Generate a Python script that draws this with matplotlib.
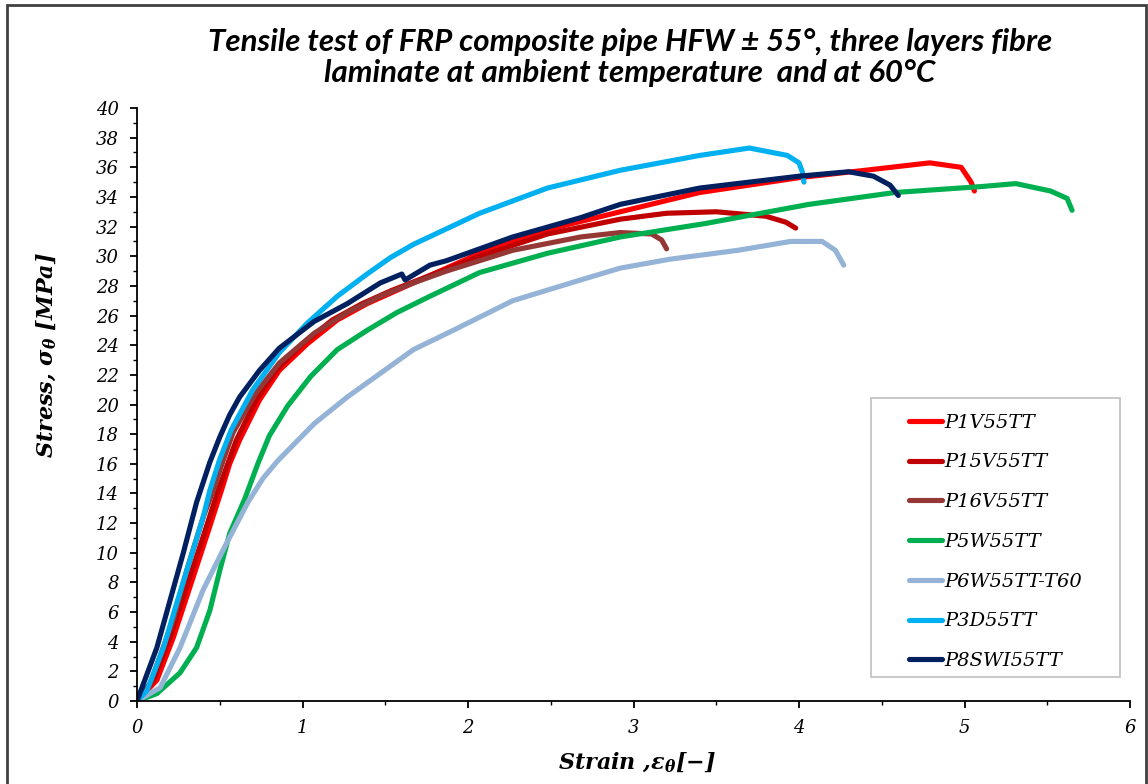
import matplotlib
matplotlib.use("Agg")
import matplotlib.pyplot as plt
from matplotlib.patches import Rectangle
from matplotlib.ticker import MultipleLocator

plt.rcParams['mathtext.fontset'] = 'custom'
plt.rcParams['mathtext.it'] = 'DejaVu Serif:italic:bold'
plt.rcParams['mathtext.rm'] = 'DejaVu Serif:bold'
plt.rcParams['mathtext.bf'] = 'DejaVu Serif:bold'

# ---------------- data ----------------
labels = ["P1V55TT", "P15V55TT", "P16V55TT", "P5W55TT", "P6W55TT-T60", "P3D55TT", "P8SWI55TT"]
colors = ["#FF0000", "#C00000", "#953735", "#00B050", "#95B3D7", "#00B0F0", "#002060"]

p1v_strain = [0, 0.12, 0.22, 0.32, 0.42, 0.51, 0.56, 0.62, 0.74, 0.86, 1.03, 1.21, 1.39, 1.57, 1.77, 2.07, 2.48, 2.92, 3.4, 4.0, 4.4, 4.79, 4.98, 5.04, 5.06]
p1v_stress = [0, 1.4, 4.3, 7.7, 11.1, 14.2, 16.0, 17.6, 20.3, 22.3, 24.1, 25.7, 26.8, 27.7, 28.7, 30.2, 31.8, 33.0, 34.3, 35.3, 35.8, 36.3, 36.0, 35.0, 34.4]

p15v_strain = [0, 0.10, 0.20, 0.30, 0.40, 0.49, 0.60, 0.72, 0.84, 1.00, 1.18, 1.36, 1.54, 1.77, 2.07, 2.48, 2.92, 3.2, 3.5, 3.8, 3.92, 3.98]
p15v_stress = [0, 1.4, 4.3, 7.7, 11.1, 14.2, 17.6, 20.3, 22.3, 24.1, 25.7, 26.8, 27.7, 28.7, 30.0, 31.5, 32.5, 32.9, 33.0, 32.7, 32.3, 31.9]

p16v_strain = [0, 0.08, 0.22, 0.30, 0.40, 0.46, 0.52, 0.58, 0.72, 0.86, 1.07, 1.27, 1.47, 1.67, 1.87, 2.27, 2.68, 2.92, 3.11, 3.17, 3.20]
p16v_stress = [0, 1.2, 5.5, 8.8, 12.4, 14.2, 16.2, 18.1, 20.8, 22.8, 24.8, 26.2, 27.3, 28.2, 29.0, 30.4, 31.3, 31.6, 31.5, 31.1, 30.5]

p5w_strain = [0, 0.12, 0.26, 0.36, 0.44, 0.50, 0.56, 0.65, 0.73, 0.80, 0.91, 1.05, 1.21, 1.39, 1.57, 1.77, 2.07, 2.48, 2.92, 3.43, 4.06, 4.58, 5.10, 5.31, 5.52, 5.62, 5.65]
p5w_stress = [0, 0.5, 1.9, 3.6, 6.1, 8.8, 11.3, 13.6, 16.0, 17.9, 19.9, 21.9, 23.7, 25.0, 26.2, 27.3, 28.9, 30.2, 31.3, 32.2, 33.5, 34.3, 34.7, 34.9, 34.4, 33.9, 33.1]

p6w_strain = [0, 0.14, 0.26, 0.40, 0.53, 0.67, 0.76, 0.85, 1.07, 1.27, 1.47, 1.67, 1.91, 2.27, 2.68, 2.92, 3.22, 3.63, 3.95, 4.14, 4.22, 4.27]
p6w_stress = [0, 0.9, 3.6, 7.5, 10.4, 13.4, 15.0, 16.2, 18.7, 20.5, 22.1, 23.7, 25.0, 27.0, 28.4, 29.2, 29.8, 30.4, 31.0, 31.0, 30.4, 29.4]

p3d_strain = [0, 0.06, 0.16, 0.24, 0.32, 0.40, 0.44, 0.50, 0.57, 0.70, 0.86, 1.03, 1.21, 1.39, 1.53, 1.67, 2.07, 2.48, 2.92, 3.4, 3.70, 3.93, 4.00, 4.02, 4.03]
p3d_stress = [0, 0.7, 3.6, 6.6, 9.5, 12.4, 14.2, 16.3, 18.3, 21.0, 23.5, 25.5, 27.3, 28.8, 29.9, 30.8, 32.9, 34.6, 35.8, 36.8, 37.3, 36.8, 36.3, 35.7, 35.0]

p8swi_strain = [0, 0.12, 0.20, 0.28, 0.36, 0.44, 0.50, 0.56, 0.62, 0.74, 0.86, 1.07, 1.27, 1.47, 1.60, 1.62, 1.77, 1.87, 2.27, 2.68, 2.92, 3.4, 4.0, 4.30, 4.45, 4.55, 4.60]
p8swi_stress = [0, 3.6, 6.8, 10.0, 13.4, 16.1, 17.8, 19.3, 20.5, 22.3, 23.8, 25.6, 26.8, 28.2, 28.8, 28.4, 29.4, 29.7, 31.3, 32.6, 33.5, 34.6, 35.4, 35.7, 35.4, 34.8, 34.1]

series = [
    (p1v_strain, p1v_stress),
    (p15v_strain, p15v_stress),
    (p16v_strain, p16v_stress),
    (p5w_strain, p5w_stress),
    (p6w_strain, p6w_stress),
    (p3d_strain, p3d_stress),
    (p8swi_strain, p8swi_stress),
]

x_ticks = [0, 1, 2, 3, 4, 5, 6]
y_ticks = list(range(0, 41, 2))

# ---------------- figure ----------------
W, H = 1148, 784
fig = plt.figure(figsize=(W / 100, H / 100), dpi=100)
ax = fig.add_axes([137 / W, 1 - 701 / H, (1130 - 137) / W, (701 - 108) / H])

handles = []
for (sx, sy), c, lab in zip(series, colors, labels):
    h, = ax.plot(sx, sy, color=c, lw=3.7, solid_capstyle='round', solid_joinstyle='round', label=lab)
    handles.append(h)

ax.set_xlim(0, 6)
ax.set_ylim(0, 40)
ax.set_xticks(x_ticks)
ax.set_yticks(y_ticks)
ax.xaxis.set_minor_locator(MultipleLocator(0.5))
ax.yaxis.set_minor_locator(MultipleLocator(1))
for s in ['top', 'right']:
    ax.spines[s].set_visible(False)
for s in ['left', 'bottom']:
    ax.spines[s].set_linewidth(1.3)
ax.tick_params(which='major', direction='out', length=5, width=1.3, pad=8)
ax.tick_params(which='minor', direction='out', length=3, width=1.0)
for t in ax.get_xticklabels() + ax.get_yticklabels():
    t.set_fontfamily('DejaVu Serif')
    t.set_fontstyle('italic')
    t.set_fontsize(13)

# axis labels
fig.text(637 / W, 1 - 763 / H, r'Strain ,$\varepsilon_{\theta}$[$-$]', fontsize=16, fontfamily='DejaVu Serif',
         fontweight='bold', fontstyle='italic', ha='center', va='center')
fig.text(47 / W, 1 - 355 / H, r'Stress, $\sigma_{\theta}$ [$MPa$]', fontsize=16, fontfamily='DejaVu Serif',
         fontweight='bold', fontstyle='italic', ha='center', va='center', rotation=90)

# title
fig.text(630 / W, 1 - 42 / H, "Tensile test of FRP composite pipe HFW \u00b1 55\u00b0, three layers fibre",
         ha='center', va='center', fontsize=22.5, fontfamily='Lato', fontweight='bold', fontstyle='italic')
fig.text(630 / W, 1 - 73 / H, "laminate at ambient temperature  and at 60\u00b0C",
         ha='center', va='center', fontsize=22.5, fontfamily='Lato', fontweight='bold', fontstyle='italic')

# legend box
fig.add_artist(Rectangle((871 / W, 1 - 677 / H), (1120 - 871) / W, (677 - 398) / H,
                         transform=fig.transFigure, facecolor='white', edgecolor='#BFBFBF', lw=1.2, zorder=5))
leg = fig.legend(handles=handles, loc='upper left', bbox_to_anchor=(895 / W, 1 - 400 / H),
                 frameon=False, prop={'family': 'DejaVu Serif', 'style': 'italic', 'size': 14},
                 handlelength=1.7, handletextpad=0.15, labelspacing=1.12, borderpad=0.2)
leg.set_zorder(6)

# outer frame
fig.add_artist(Rectangle((7 / W, -0.02), (1146 - 7) / W, 1 - 5 / H + 0.02, transform=fig.transFigure,
                         facecolor='none', edgecolor='#404040', lw=2.0, zorder=10))

fig.savefig("out.png", dpi=100)
